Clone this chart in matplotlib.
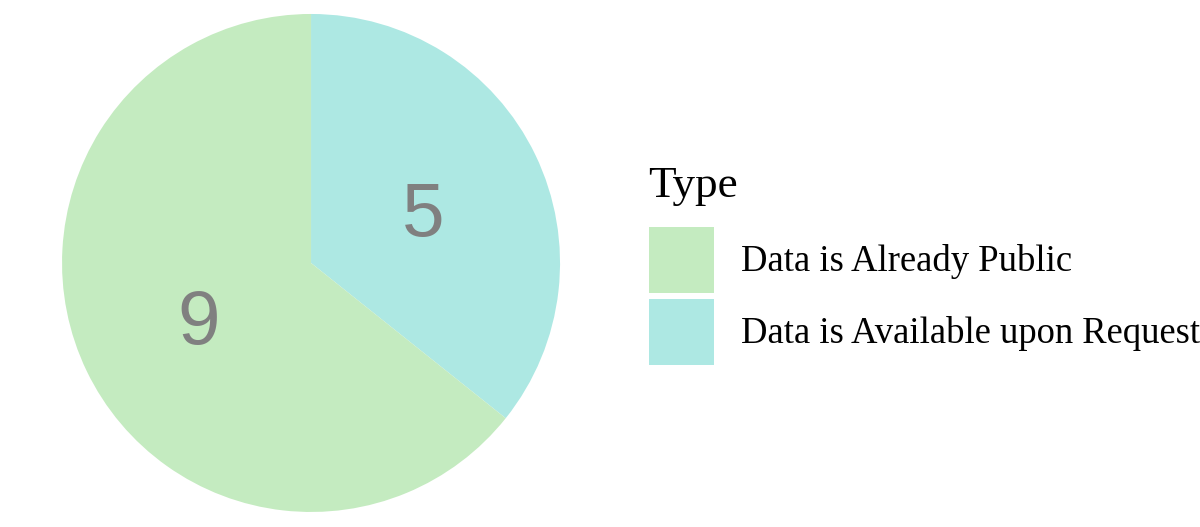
"""Pie chart of data availability by type."""

import matplotlib

matplotlib.use("Agg")
import matplotlib.pyplot as plt

# Data.
types = ["Data is Already Public", "Data is Available upon Request"]
counts = [9, 5]
colors = ["#c4ebc0", "#ade8e3"]

fig = plt.figure(figsize=(12, 5.27), dpi=100)
ax = fig.add_axes([0.0517, 0.0285, 0.415, 0.945])

# Start at 12 o'clock, going clockwise; the smaller slice comes first.
wedges, texts = ax.pie(
    counts[::-1],
    colors=colors[::-1],
    labels=[str(c) for c in counts[::-1]],
    labeldistance=0.5,
    startangle=90,
    counterclock=False,
    textprops=dict(color="#808080", fontsize=55, family="Liberation Sans"),
)
for t in texts:
    t.set_horizontalalignment("center")
    t.set_verticalalignment("center_baseline")
ax.set_xlim(-1, 1)
ax.set_ylim(-1, 1)
ax.set_aspect("equal")

# Legend title drawn on its own so the gap below it can match.
fig.text(648 / 1200, 1 - 197 / 527, "Type", family="Liberation Serif",
         size=32.5, va="baseline", ha="left")

leg = fig.legend(
    wedges[::-1],
    types,
    loc="upper left",
    bbox_to_anchor=(649 / 1200, 1 - 227 / 527),
    frameon=False,
    prop=dict(family="Liberation Serif", size=26.4),
    handlelength=1.77,
    handleheight=2.39,
    handletextpad=0.74,
    labelspacing=0.16,
    borderpad=0,
    borderaxespad=0,
)

fig.savefig("out.png", dpi=100)
